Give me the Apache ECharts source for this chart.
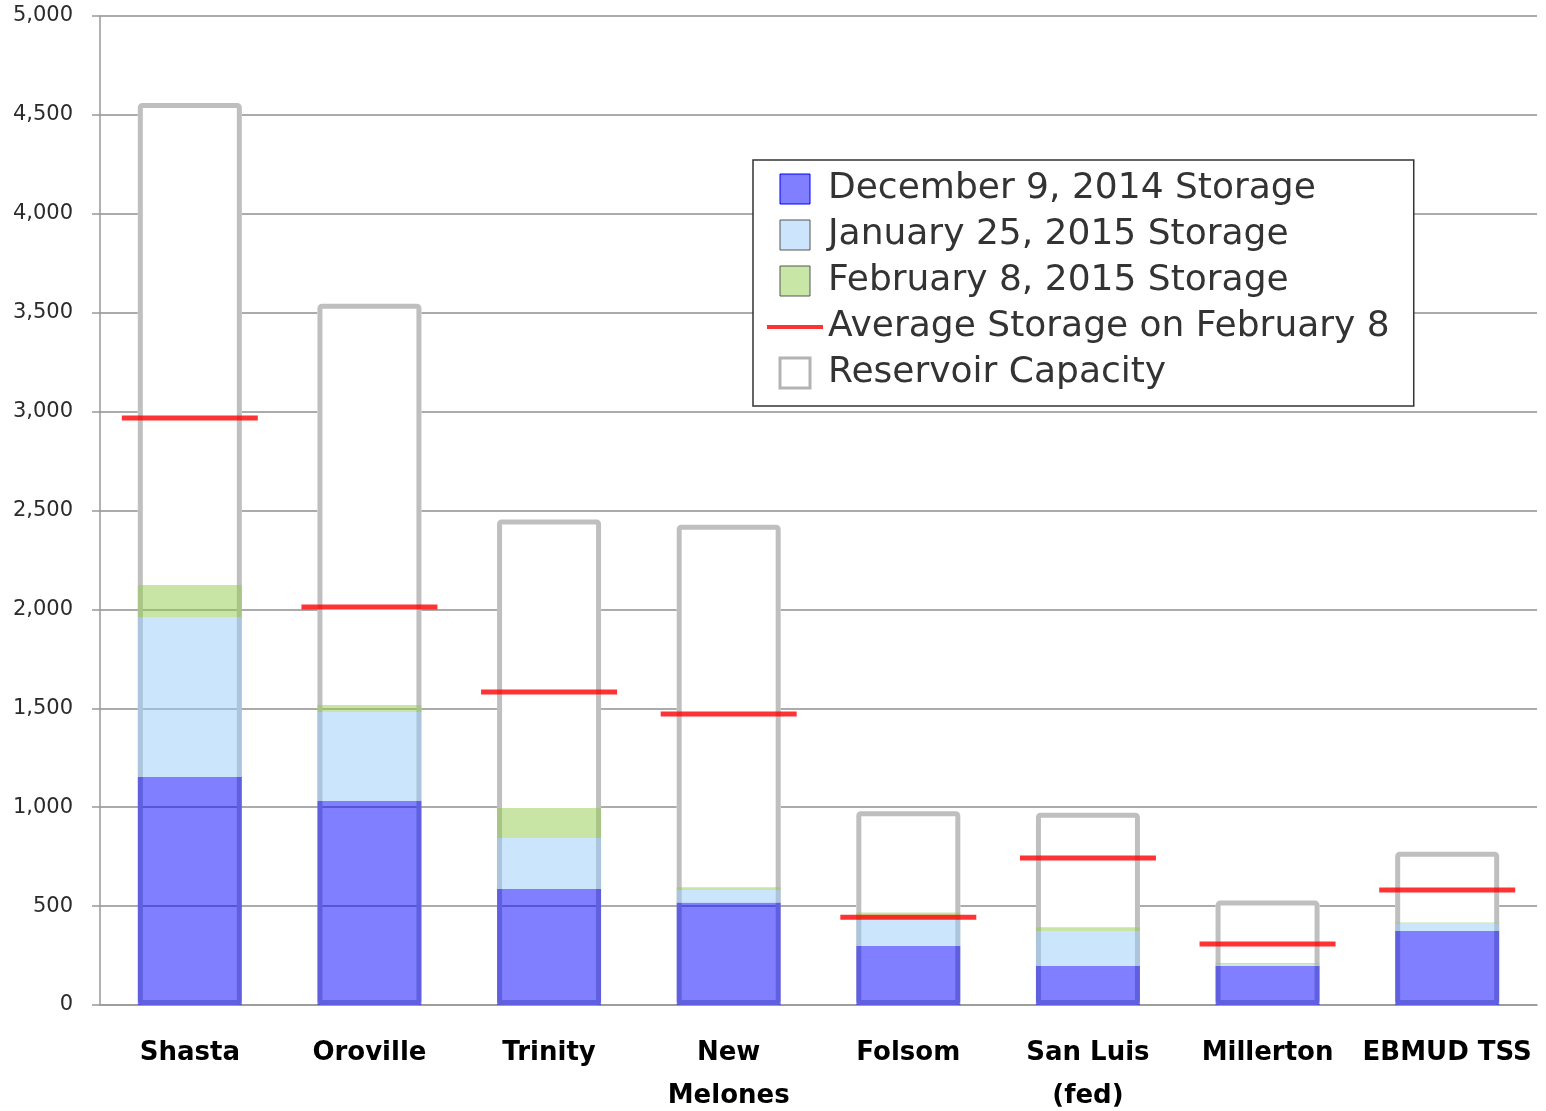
<!DOCTYPE html>
<html>
<head>
<meta charset="utf-8">
<title>Reservoir storage</title>
<script src="https://cdn.jsdelivr.net/npm/echarts@6/dist/echarts.min.js"></script>
<style>
  html, body { margin: 0; padding: 0; background: #fff; }
  #chart { width: 1546px; height: 1111px; }
</style>
</head>
<body>
<div id="chart"></div>
<script>
// reservoirs (thousand acre-feet)
const categories = ['Shasta', 'Oroville', 'Trinity', 'New\nMelones', 'Folsom', 'San Luis\n(fed)', 'Millerton', 'EBMUD TSS']
const capacity = [4560, 3545, 2455, 2428, 980, 972, 528, 775]
const dec9 = [1153, 1031, 586, 517, 298, 197, 197, 374]
const jan25 = [1962, 1481, 844, 581, 432, 374, 205, 413]
const feb8 = [2123, 1517, 996, 595, 468, 393, 212, 417]
const average = [2968, 2012, 1582, 1471, 443, 743, 308, 581]
const yTicks = [0, 500, 1000, 1500, 2000, 2500, 3000, 3500, 4000, 4500, 5000]

// stacked pieces: each date's growth sits on top of the previous one
const janPart = jan25.map((v, i) => v - dec9[i])
const febPart = feb8.map((v, i) => v - jan25[i])
const emptyPart = capacity.map((v, i) => v - feb8[i])

const chart = echarts.init(document.getElementById('chart'))
const font = 'DejaVu Sans'
const square = 'path://M0,0H30V30H0Z'

chart.setOption({
  animation: false,
  grid: { left: 100, right: 9, top: 16, bottom: 106, outerBoundsMode: 'none' },
  legend: {
    orient: 'vertical',
    left: 753,
    top: 160,
    padding: [11, 24, 15, 14],
    itemWidth: 56,
    itemHeight: 30,
    itemGap: 10,
    backgroundColor: '#fff',
    borderColor: '#333',
    borderWidth: 1.5,
    selectedMode: false,
    textStyle: { fontFamily: font, fontSize: 36, color: '#333', lineHeight: 30 },
    data: [
      { name: 'December 9, 2014 Storage', icon: square, itemStyle: { color: '#7f7fff', borderColor: '#0000ff', borderWidth: 1 } },
      { name: 'January 25, 2015 Storage', icon: square, itemStyle: { color: '#cce5fc', borderColor: '#555', borderWidth: 1 } },
      { name: 'February 8, 2015 Storage', icon: square, itemStyle: { color: '#c8e6a5', borderColor: '#555', borderWidth: 1 } },
      { name: 'Average Storage on February 8', icon: 'path://M0,0H56V4H0Z', itemStyle: { color: '#ff0000', borderWidth: 0 } },
      { name: 'Reservoir Capacity', icon: square, itemStyle: { color: '#fff', borderColor: '#b3b3b3', borderWidth: 3 } }
    ]
  },
  xAxis: {
    type: 'category',
    data: categories,
    axisLine: { lineStyle: { color: '#999', width: 1.5 } },
    axisTick: { length: 10, lineStyle: { color: '#999', width: 1.5 } },
    axisLabel: {
      interval: 0,
      margin: 27,
      color: '#000',
      fontFamily: font,
      fontWeight: 'bold',
      fontSize: 26,
      lineHeight: 43
    }
  },
  yAxis: {
    type: 'value',
    min: yTicks[0],
    max: yTicks[yTicks.length - 1],
    interval: 500,
    axisLine: { show: true, lineStyle: { color: '#999', width: 1.5 } },
    axisTick: { show: true, length: 8, lineStyle: { color: '#999', width: 1.5 } },
    splitLine: { lineStyle: { color: '#8f8f8f', width: 1.5 } },
    axisLabel: {
      margin: 27,
      color: '#2b2b2b',
      fontFamily: font,
      fontSize: 21,
      formatter: v => v.toLocaleString('en-US')
    }
  },
  series: [
    {
      name: 'Reservoir Capacity',
      type: 'bar',
      z: 3,
      barWidth: 104,
      barGap: '-100%',
      data: capacity,
      itemStyle: { color: 'rgba(0,0,0,0)', borderColor: '#bfbfbf', borderWidth: 5, borderRadius: 2 }
    },
    {
      name: 'December 9, 2014 Storage',
      type: 'bar',
      stack: 'storage',
      z: 4,
      barWidth: 104,
      barGap: '-100%',
      data: dec9,
      itemStyle: { color: 'rgba(0,0,255,0.5)' }
    },
    {
      name: 'January 25, 2015 Storage',
      type: 'bar',
      stack: 'storage',
      z: 4,
      barWidth: 104,
      barGap: '-100%',
      data: janPart,
      itemStyle: { color: 'rgba(151,203,249,0.5)' }
    },
    {
      name: 'February 8, 2015 Storage',
      type: 'bar',
      stack: 'storage',
      z: 4,
      barWidth: 104,
      barGap: '-100%',
      data: febPart,
      itemStyle: { color: 'rgba(145,203,77,0.5)' }
    },
    {
      // white fill above the storage, hides the gridlines inside the empty part
      name: 'empty',
      type: 'bar',
      stack: 'storage',
      z: 2,
      barWidth: 104,
      barGap: '-100%',
      data: emptyPart,
      itemStyle: { color: '#fff' },
      silent: true
    },
    {
      name: 'Average Storage on February 8',
      type: 'scatter',
      z: 5,
      symbol: 'rect',
      symbolSize: [136, 5],
      data: average,
      itemStyle: { color: '#ff0000' }
    }
  ]
})
</script>
</body>
</html>
